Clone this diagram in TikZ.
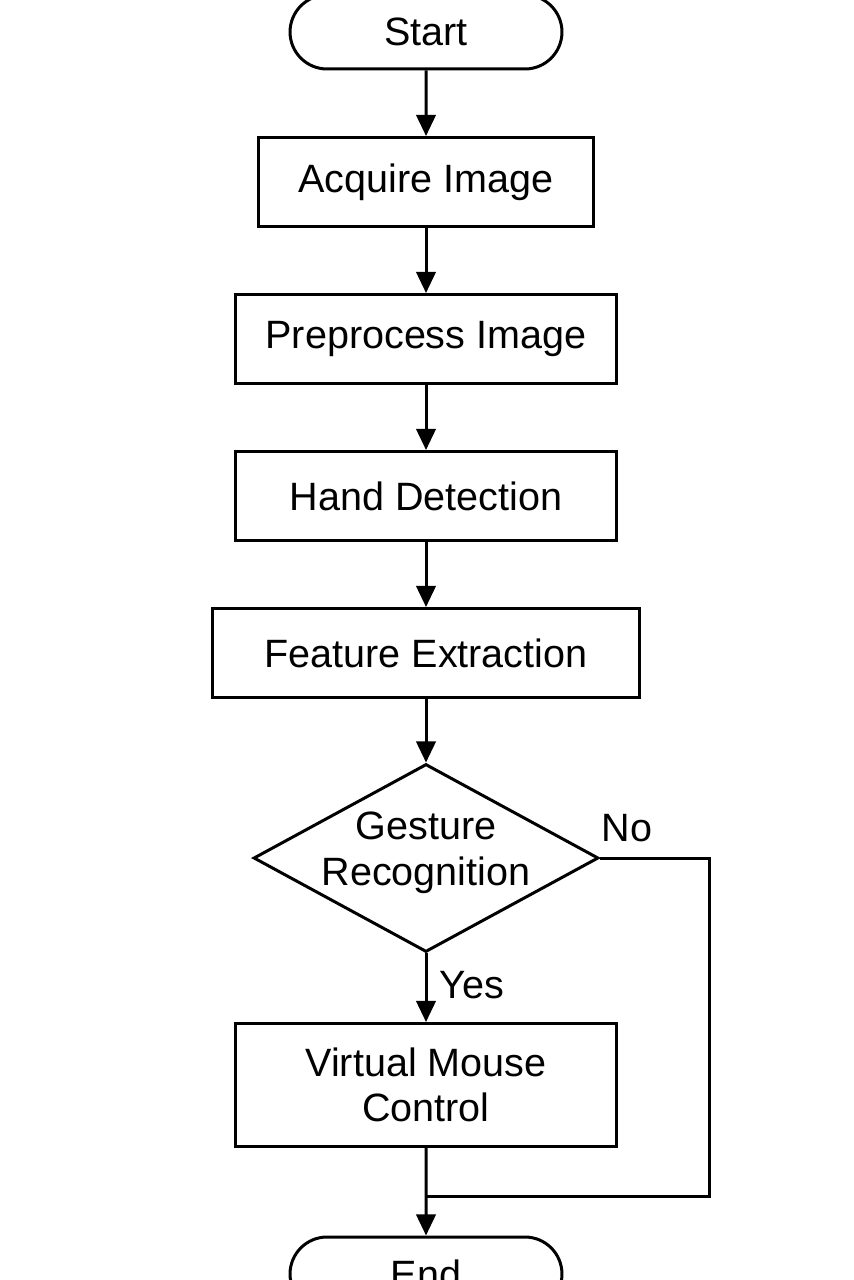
\documentclass[tikz,border=0pt]{standalone}
\usepackage{fontspec}
\setmainfont{Liberation Sans}
\usetikzlibrary{arrows.meta, shapes.geometric, shapes.misc}

\begin{document}
\begin{tikzpicture}[x=0.02cm, y=-0.02cm, line width=1.7pt,
  every node/.style={font=\fontsize{22.5}{26}\selectfont},
  terminal/.style={draw, rounded rectangle, minimum width=5.44cm, minimum height=1.48cm, inner sep=0pt},
  process/.style={draw, rectangle, minimum height=1.78cm, inner sep=0pt, align=center},
  decision/.style={draw, diamond, minimum width=6.9cm, minimum height=3.76cm, inner sep=0pt},
  flow/.style={-{Triangle[length=12pt, width=11pt]}}]
\useasboundingbox (0,0) rectangle (853,1280);
\node[terminal] (start) at (426,32) {Start};
\node[process, minimum width=6.72cm] (acquire) at (426,182) {Acquire Image};
\node[process, minimum width=7.62cm] (preproc) at (426,339) {Preprocess Image};
\node[process, minimum width=7.62cm] (hand) at (426,496) {Hand Detection};
\node[process, minimum width=8.56cm] (feature) at (426,653) {Feature Extraction};
\node[decision] (gesture) at (426,858) {};
\node[align=center] (gesturetext) at (426,853) {Gesture\\Recognition};
\node[process, minimum width=7.64cm, minimum height=2.46cm] (mouse) at (426,1085) {Virtual Mouse\\Control};
\node[terminal] (end) at (426,1274) {End};
\node (yes) at (472,985) {Yes};
\node (no) at (627,828) {No};
\coordinate (noturn) at (709,1196);
\draw[flow] (start) -- (acquire);
\draw[flow] (acquire) -- (preproc);
\draw[flow] (preproc) -- (hand);
\draw[flow] (hand) -- (feature);
\draw[flow] (feature) -- (gesture);
\draw[flow] (gesture) -- (mouse);
\draw[flow] (mouse) -- (end);
\draw (gesture.east) -| (noturn) -- (noturn -| mouse.south);
\end{tikzpicture}
\end{document}
